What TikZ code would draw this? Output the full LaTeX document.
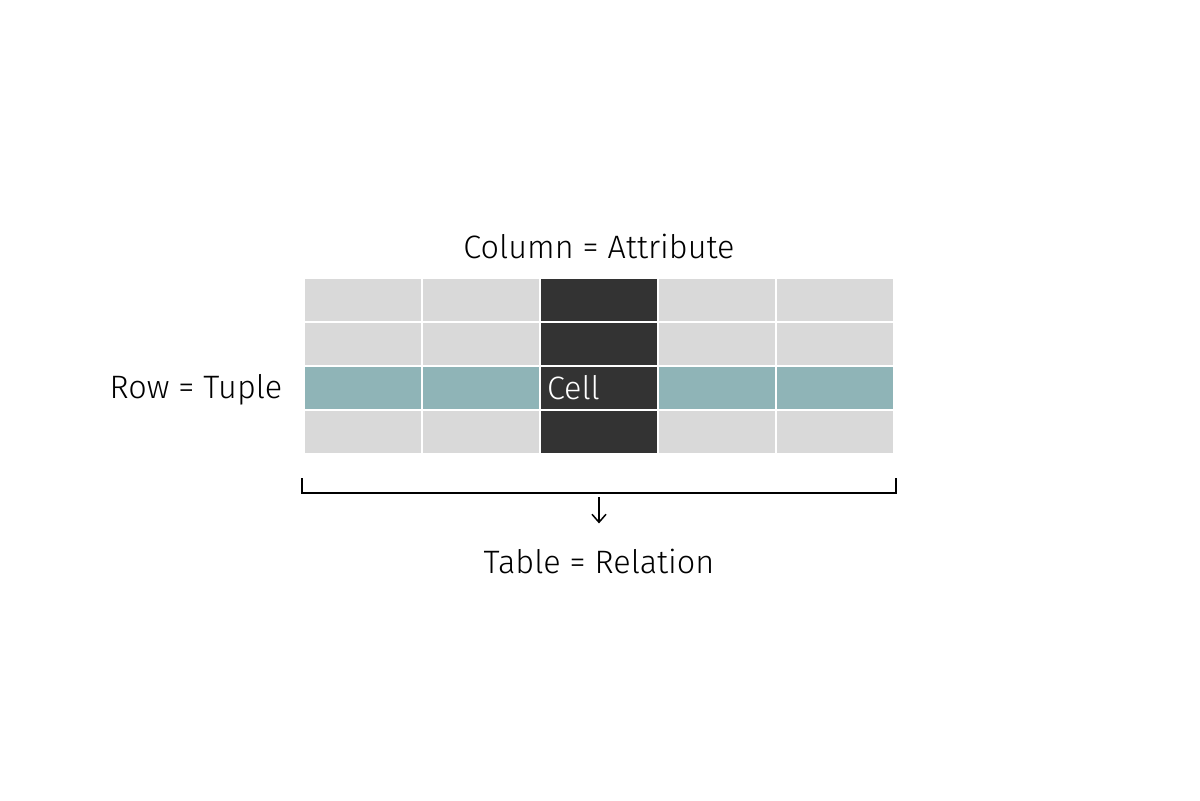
\documentclass[tikz,border=0pt]{standalone}
\usepackage{fontspec}
\setmainfont{Fira Sans}[UprightFont=* Light]
\usetikzlibrary{positioning,arrows.meta,calc}
\definecolor{cellgray}{HTML}{D9D9D9}
\definecolor{celldark}{HTML}{333333}
\definecolor{cellteal}{HTML}{8FB4B7}

\begin{document}
\begin{tikzpicture}[x=0.5pt,y=-0.5pt,
    cell/.style={minimum width=58pt,minimum height=21pt,inner sep=0pt,fill=cellgray},
    lbl/.style={inner sep=0pt,font=\fontsize{16.2}{19}\selectfont}]
    \useasboundingbox (0,0) rectangle (1200,800);
    \foreach \r in {1,...,4}
        \foreach \c in {1,...,5}{
            \ifnum\c=3 \def\cellcol{celldark}\else\ifnum\r=3 \def\cellcol{cellteal}\else\def\cellcol{cellgray}\fi\fi
            \node[cell,fill=\cellcol] (c-\r-\c) at (245+118*\c, 256+44*\r) {};
        }
    \node[lbl,text=white,anchor=west] (celltxt) at ([xshift=3pt]c-3-3.west) {Cell};
    \node[lbl,above=9.5pt of c-1-3] (colname) {Column = Attribute};
    \node[lbl,left=11pt of c-3-1,yshift=-1pt] (rowname) {Row = Tuple};
    \node[lbl,below=47.5pt of c-4-3] (tblname) {Table = Relation};
    % bracket under the table
    \coordinate (brl) at ([xshift=-1.5pt,yshift=-12.5pt]c-4-1.south west);
    \coordinate (brr) at ([xshift=1.5pt,yshift=-12.5pt]c-4-5.south east);
    \draw[line width=1pt] (brl) -- ++(0,15) -| (brr);
    \coordinate (arrtop) at ($(brl)!0.5!(brr) + (0,19)$);
    \coordinate (arrbot) at ($(arrtop) + (0,26)$);
    \draw[line width=0.75pt,-{Straight Barb[length=4pt,width=7pt]}] (arrtop) -- (arrbot);
\end{tikzpicture}
\end{document}
